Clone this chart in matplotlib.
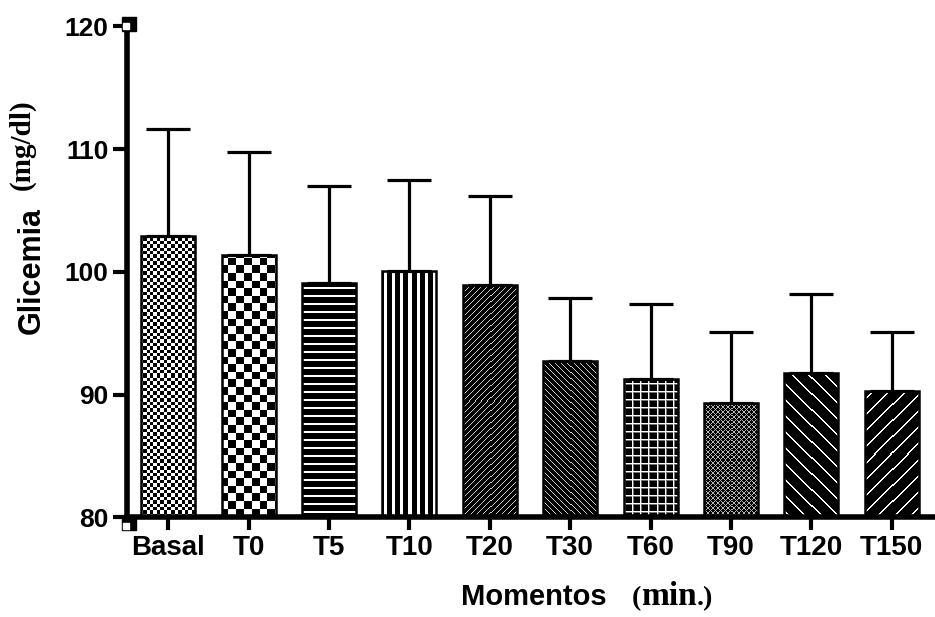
import numpy as np
import matplotlib
matplotlib.use("Agg")
import matplotlib.pyplot as plt
from matplotlib.transforms import offset_copy

# Dados
categorias = ["Basal", "T0", "T5", "T10", "T20", "T30", "T60", "T90", "T120", "T150"]
medias = [102.9, 101.4, 99.1, 100.1, 98.9, 92.7, 91.3, 89.3, 91.8, 90.3]
desvios = [8.7, 8.4, 7.9, 7.4, 7.3, 5.2, 6.1, 5.8, 6.4, 4.8]
padroes = ["xadrez_fino", "xadrez", "horizontal", "vertical", "diag_fina",
           "diag_inv_fina", "grade", "cruzada", "diag_inv", "diag"]
yticks = [80, 90, 100, 110, 120]

SANS = "Liberation Sans"
SERIF = "Liberation Serif"


def textura(nome, X, Y):
    # 0 = preto, 1 = branco (coordenadas em pixels, Y para baixo)
    if nome == "xadrez_fino":
        return (np.floor(X / 3.4) + np.floor(Y / 3.4)) % 2
    if nome == "xadrez":
        return (np.floor(X / 7.6) + np.floor(Y / 7.6)) % 2
    if nome == "horizontal":
        return np.where(Y % 8 < 2, 1.0, 0.0)
    if nome == "vertical":
        return np.where(X % 8 < 3, 1.0, 0.0)
    if nome == "diag_fina":
        return np.where((X + Y) % 6 == 0, 0.8, 0.0)
    if nome == "diag_inv_fina":
        return np.where((X - Y) % 6 == 0, 0.8, 0.0)
    if nome == "grade":
        return np.where((X % 8 == 0) | (Y % 8 == 0), 1.0,
                        np.where((X % 8 == 1) | (Y % 8 == 1), 0.45, 0.0))
    if nome == "cruzada":
        return np.where(((X + Y) % 5 == 0) | ((X - Y) % 5 == 0), 0.7, 0.0)
    if nome == "diag_inv":
        return np.where((X - Y) % 16 < 2, 1.0, 0.0)
    if nome == "diag":
        return np.where((X + Y) % 16 < 2, 1.0, 0.0)
    return np.ones_like(X)


fig = plt.figure(figsize=(9.35, 6.17), dpi=100)
ax = fig.add_axes([127 / 935, 0.1614, 1 - 127 / 935, 0.796])

x = np.arange(len(categorias))
ax.set_xlim(-0.514, 9.54)
ax.set_ylim(80, 120)

barras = ax.bar(x, medias, width=0.672, facecolor="none", edgecolor="black",
                linewidth=1.8, zorder=3)

# preenchimentos com textura, recortados pela barra
H = fig.bbox.height
for barra, nome in zip(barras, padroes):
    x0, x1 = barra.get_x(), barra.get_x() + barra.get_width()
    y1 = barra.get_height()
    (dx0, dy0), (dx1, dy1) = ax.transData.transform([(x0, 80), (x1, y1)])
    cols = int(round(dx1 - dx0))
    rows = int(round(dy1 - dy0))
    X, Y = np.meshgrid(np.arange(cols) + int(round(dx0)),
                       np.arange(rows) + int(round(H - dy1)))
    img = textura(nome, X, Y)
    im = ax.imshow(img, cmap="gray", vmin=0, vmax=1, extent=(x0, x1, 80, y1),
                   origin="upper", interpolation="nearest", aspect="auto", zorder=2)
    im.set_clip_path(barra)

ax.set_xlim(-0.514, 9.54)
ax.set_ylim(80, 120)

ax.errorbar(x, medias, yerr=[np.zeros(len(medias)), desvios], fmt="none",
            ecolor="black", elinewidth=2.3, capsize=16, capthick=2.3, zorder=2.5)

# eixos
for lado in ["top", "right"]:
    ax.spines[lado].set_visible(False)
for lado in ["left", "bottom"]:
    ax.spines[lado].set_linewidth(4)
    ax.spines[lado].set_zorder(4)

ax.set_xticks(x, categorias)
ax.set_yticks(yticks)
ax.tick_params(axis="x", direction="out", length=9, width=3, pad=3.5, labelsize=20)
ax.tick_params(axis="y", direction="out", length=10, width=3, pad=3.5, labelsize=19)
for lab in ax.get_xticklabels() + ax.get_yticklabels():
    lab.set_fontfamily(SANS)
    lab.set_fontweight("bold")

# marcadores nas pontas do eixo y
ytr = ax.get_yaxis_transform()
for yv, dy in [(120, 2), (80, -4)]:
    ax.plot([0], [yv], marker="s", markersize=10, color="black",
            transform=offset_copy(ytr, fig=fig, x=1.5, y=dy, units="points"),
            clip_on=False, zorder=5)
    ax.plot([0], [yv], marker="s", markersize=4, color="white",
            transform=offset_copy(ytr, fig=fig, x=-1, y=dy - 2, units="points"),
            clip_on=False, zorder=6)

# rótulos
fig.text(0.034, 0.5616, "Glicemia", rotation=90, ha="center", va="center",
         fontsize=22, fontweight="bold", family=SANS)
fig.text(0.0235, 0.765, "(mg/dl)", rotation=90, ha="center", va="center",
         fontsize=21, fontweight="bold", family=SERIF)
fig.text(534 / 935, 1 - 605 / 617, "Momentos", ha="center", va="baseline",
         fontsize=21, fontweight="bold", family=SANS)

renderer = fig.canvas.get_renderer()
xpos = 632 / 935
ybase = 1 - 605 / 617
for parte, tam in [("(", 20), ("min", 24), (".)", 20)]:
    t = fig.text(xpos, ybase, parte, ha="left", va="baseline", fontsize=tam,
                 fontweight="bold", family=SERIF)
    bb = t.get_window_extent(renderer)
    xpos = bb.x1 / fig.bbox.width

fig.savefig("out.png", dpi=100)
